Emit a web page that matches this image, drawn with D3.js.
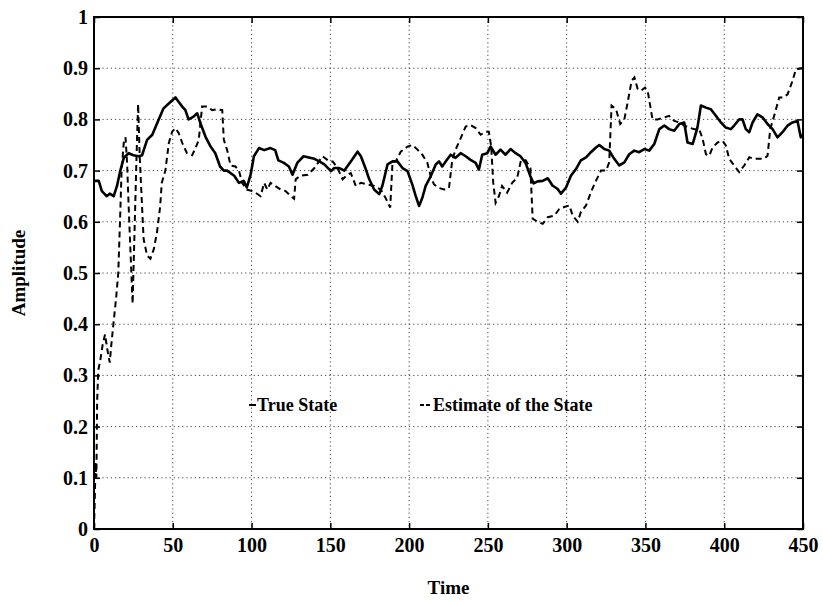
<!DOCTYPE html>
<meta charset="utf-8">
<style>

body {
  margin: 0;
  background: #fff;
}

text {
  font-family: "Liberation Serif", "Times New Roman", serif;
  font-weight: bold;
  fill: #000;
}

.grid line {
  stroke: #444;
  stroke-width: 1;
  stroke-dasharray: 1.2,3;
}

.axis path {
  display: none;
}

.axis line {
  stroke: #000;
  stroke-width: 1.5;
}

</style>
<svg width="823" height="602"></svg>
<script src="https://cdn.jsdelivr.net/npm/d3@7"></script>
<script>

// true state, sampled along time
var trueTime = [0, 3, 5, 8, 10, 12.5, 14.6, 16.7, 18.9, 22, 25, 28.4, 30.5, 33.7, 37, 40, 44, 48.5, 51.7, 53.8,
  56, 58, 60, 63, 65.5, 67.6, 70.8, 74, 77, 80, 82.4, 84.5, 89, 92, 95, 97, 99.4, 101.5, 104.7, 108,
  112, 115, 117, 120.5, 123.7, 126, 129, 133, 135.7, 139.9, 143, 146.2, 150.4, 152.5, 155.7, 158.9, 163, 167.3, 169.4, 172.6,
  174.7, 177.8, 181, 183, 186.3, 189.5, 192.6, 195.8, 199, 202, 204.2, 206.3, 208.4, 210.5, 213.7, 216.9, 219, 221, 224, 226.4,
  229.5, 232.7, 235.9, 239, 242.2, 244.3, 246.4, 249.6, 251.7, 254.9, 258, 261.2, 264.4, 267.6, 270.7, 273.9, 277, 279, 281.6, 284.8,
  288, 291, 294.3, 296.4, 299.6, 302.7, 305.9, 309, 312.3, 315.4, 318.6, 320.7, 323.9, 327, 330.2, 333.4, 336.6, 339.7, 342.9, 346,
  349.3, 352.4, 355.6, 358.8, 362, 365, 368.3, 371.5, 374.6, 376.7, 380, 383, 385.2, 388.4, 391.5, 394.7, 397.9, 401, 404.2, 406.3,
  409.5, 411.6, 413.7, 415.9, 418, 421.1, 424.3, 427.5, 430.7, 433.8, 437, 440.2, 443.3, 446.5, 448.6, 450];
var trueValue = [0.68, 0.68, 0.66, 0.65, 0.655, 0.65, 0.67, 0.70, 0.725, 0.734, 0.73, 0.728, 0.73, 0.76, 0.77, 0.792, 0.821, 0.834, 0.843, 0.834,
  0.825, 0.818, 0.80, 0.805, 0.812, 0.792, 0.766, 0.747, 0.734, 0.708, 0.70, 0.70, 0.69, 0.676, 0.68, 0.667, 0.692, 0.728, 0.744, 0.74,
  0.744, 0.74, 0.72, 0.715, 0.708, 0.692, 0.715, 0.728, 0.726, 0.723, 0.718, 0.712, 0.699, 0.705, 0.705, 0.70, 0.718, 0.737, 0.728, 0.702,
  0.683, 0.663, 0.654, 0.67, 0.712, 0.718, 0.718, 0.705, 0.699, 0.673, 0.65, 0.631, 0.647, 0.67, 0.689, 0.712, 0.718, 0.708, 0.721, 0.731,
  0.725, 0.734, 0.728, 0.721, 0.715, 0.702, 0.731, 0.734, 0.747, 0.731, 0.741, 0.731, 0.742, 0.734, 0.728, 0.715, 0.689, 0.675, 0.679, 0.68,
  0.685, 0.671, 0.664, 0.655, 0.667, 0.69, 0.703, 0.72, 0.726, 0.736, 0.745, 0.75, 0.742, 0.739, 0.723, 0.71, 0.716, 0.732, 0.739, 0.736,
  0.742, 0.739, 0.752, 0.781, 0.788, 0.781, 0.778, 0.791, 0.794, 0.755, 0.752, 0.784, 0.827, 0.823, 0.82, 0.807, 0.794, 0.784, 0.781, 0.788,
  0.80, 0.80, 0.781, 0.775, 0.794, 0.81, 0.804, 0.791, 0.781, 0.765, 0.775, 0.788, 0.794, 0.797, 0.765, 0.77];

// filter estimate of the state
var estTime = [0, 0.5, 1, 1.5, 2, 2.7, 4, 5.5, 7, 8.5, 10, 11, 12.3, 14, 15.4, 16.5, 17.5, 18.9, 20, 21,
  22, 23, 24.5, 25.6, 27, 28, 29, 30.5, 31.5, 33.7, 35.8, 38, 40, 42, 43, 45.3, 47.5, 49.6, 51.7, 53.8,
  56, 59, 62.3, 64.4, 66.5, 68.6, 71.8, 75, 78, 81.4, 82.4, 84.5, 86.7, 89.8, 92, 94, 97, 100.4, 102.5, 105.7,
  108, 110, 112, 115, 118.4, 121.6, 125, 127, 128, 131, 135.7, 139.9, 145, 149.4, 151.5, 154.6, 157.8, 161, 163, 166.2,
  169.4, 173.6, 177.8, 182, 185, 188, 189.5, 191.6, 194.7, 199, 202, 205.3, 208.4, 211.6, 213.7, 215.8, 219, 222.2, 225.3, 227.4,
  229.5, 232.7, 235.9, 239, 242.2, 245.4, 248.5, 250.6, 252.1, 253.4, 254.9, 257, 259, 262.2, 265.4, 268.6, 271, 274, 277, 278.4,
  281.6, 284.8, 288, 292.2, 295.3, 298.5, 301.7, 303.8, 307, 309, 312.3, 315.4, 318.6, 321.8, 325, 327, 328.5, 331.3, 334, 336.6,
  338.7, 341.2, 343, 345, 347.1, 349.7, 351.4, 353, 354.5, 357.7, 362, 365, 368.3, 371.5, 374.6, 377.8, 381, 384.1, 386.3, 388.4,
  390.5, 392.6, 395.8, 399, 401, 403.2, 406.3, 409.5, 412.7, 415.9, 419, 422.2, 425.4, 427.5, 429.2, 431.7, 434.9, 438, 440.2, 443.3,
  445.5, 448.6, 450];
var estValue = [0, 0.06, 0.13, 0.1, 0.25, 0.31, 0.33, 0.36, 0.38, 0.35, 0.325, 0.36, 0.40, 0.45, 0.50, 0.60, 0.70, 0.755, 0.765, 0.715,
  0.63, 0.553, 0.44, 0.566, 0.728, 0.83, 0.728, 0.63, 0.566, 0.534, 0.528, 0.547, 0.58, 0.63, 0.676, 0.70, 0.754, 0.776, 0.783, 0.773,
  0.754, 0.734, 0.73, 0.744, 0.76, 0.825, 0.825, 0.818, 0.82, 0.818, 0.76, 0.74, 0.71, 0.708, 0.70, 0.676, 0.663, 0.66, 0.657, 0.65,
  0.676, 0.663, 0.676, 0.67, 0.663, 0.66, 0.65, 0.645, 0.683, 0.69, 0.692, 0.705, 0.728, 0.718, 0.718, 0.705, 0.683, 0.692, 0.695, 0.67,
  0.676, 0.673, 0.67, 0.663, 0.647, 0.628, 0.718, 0.718, 0.737, 0.747, 0.75, 0.741, 0.731, 0.715, 0.689, 0.673, 0.666, 0.663, 0.666, 0.721,
  0.741, 0.763, 0.786, 0.789, 0.783, 0.77, 0.776, 0.776, 0.747, 0.676, 0.637, 0.65, 0.67, 0.657, 0.676, 0.686, 0.72, 0.72, 0.705, 0.606,
  0.60, 0.596, 0.609, 0.612, 0.625, 0.629, 0.632, 0.612, 0.60, 0.619, 0.632, 0.658, 0.68, 0.70, 0.70, 0.716, 0.827, 0.82, 0.791, 0.80,
  0.833, 0.875, 0.882, 0.86, 0.856, 0.862, 0.856, 0.827, 0.80, 0.80, 0.804, 0.807, 0.797, 0.794, 0.788, 0.784, 0.781, 0.781, 0.762, 0.732,
  0.729, 0.745, 0.755, 0.758, 0.749, 0.723, 0.71, 0.697, 0.71, 0.726, 0.723, 0.723, 0.723, 0.729, 0.781, 0.807, 0.843, 0.843, 0.849, 0.875,
  0.898, 0.90, 0.90];

var xTicks = [0, 50, 100, 150, 200, 250, 300, 350, 400, 450];
var xTickLabels = ["0", "50", "100", "150", "200", "250", "300", "350", "400", "450"];
var yTicks = [0, 0.1, 0.2, 0.3, 0.4, 0.5, 0.6, 0.7, 0.8, 0.9, 1];
var yTickLabels = ["0", "0.1", "0.2", "0.3", "0.4", "0.5", "0.6", "0.7", "0.8", "0.9", "1"];

var seriesNames = ["True State", "Estimate of the State"];

var svg = d3.select("svg"),
    box = {x0: 94, x1: 803, y0: 17, y1: 529};

var x = d3.scaleLinear().domain([0, 450]).range([box.x0, box.x1]);
var y = d3.scaleLinear().domain([0, 1]).range([box.y1, box.y0]);

// dotted grid
var grid = svg.append("g").attr("class", "grid");
grid.selectAll(".gx")
    .data(xTicks.slice(1, -1))
    .enter().append("line")
    .attr("x1", function(d) { return x(d); })
    .attr("x2", function(d) { return x(d); })
    .attr("y1", box.y0)
    .attr("y2", box.y1);
grid.selectAll(".gy")
    .data(yTicks.slice(1, -1))
    .enter().append("line")
    .attr("x1", box.x0)
    .attr("x2", box.x1)
    .attr("y1", function(d) { return y(d); })
    .attr("y2", function(d) { return y(d); });

// axes, ticks pointing inward on all four sides
svg.append("g")
    .attr("class", "axis")
    .attr("transform", "translate(0," + box.y1 + ")")
    .call(d3.axisBottom(x).tickValues(xTicks).tickSize(-6).tickPadding(9)
        .tickFormat(function(d, i) { return xTickLabels[i]; }))
    .selectAll("text").style("font-size", "20px");

svg.append("g")
    .attr("class", "axis")
    .attr("transform", "translate(" + box.x0 + ",0)")
    .call(d3.axisLeft(y).tickValues(yTicks).tickSize(-6).tickPadding(6)
        .tickFormat(function(d, i) { return yTickLabels[i]; }))
    .selectAll("text").style("font-size", "20px");

svg.append("g")
    .attr("class", "axis")
    .attr("transform", "translate(0," + box.y0 + ")")
    .call(d3.axisTop(x).tickValues(xTicks).tickSize(-6).tickFormat(""));

svg.append("g")
    .attr("class", "axis")
    .attr("transform", "translate(" + box.x1 + ",0)")
    .call(d3.axisRight(y).tickValues(yTicks).tickSize(-6).tickFormat(""));

var line = d3.line()
    .x(function(d) { return x(d[0]); })
    .y(function(d) { return y(d[1]); });

var trueData = d3.zip(trueTime, trueValue);
var estData = d3.zip(estTime, estValue);

svg.append("path")
    .datum(estData)
    .attr("fill", "none")
    .attr("stroke", "#000")
    .attr("stroke-width", 2)
    .attr("stroke-dasharray", "6,4")
    .attr("d", line);

svg.append("path")
    .datum(trueData)
    .attr("fill", "none")
    .attr("stroke", "#000")
    .attr("stroke-width", 2.6)
    .attr("stroke-linejoin", "round")
    .attr("d", line);

// frame
svg.append("rect")
    .attr("x", box.x0)
    .attr("y", box.y0)
    .attr("width", box.x1 - box.x0)
    .attr("height", box.y1 - box.y0)
    .attr("fill", "none")
    .attr("stroke", "#000")
    .attr("stroke-width", 2);

// legend
var legend = svg.append("g").style("font-size", "18px");
legend.append("line")
    .attr("x1", 249).attr("x2", 256)
    .attr("y1", 405).attr("y2", 405)
    .attr("stroke", "#000").attr("stroke-width", 2);
legend.append("text")
    .attr("x", 257).attr("y", 411)
    .text(seriesNames[0]);
legend.append("line")
    .attr("x1", 420).attr("x2", 432)
    .attr("y1", 405).attr("y2", 405)
    .attr("stroke", "#000").attr("stroke-width", 2)
    .attr("stroke-dasharray", "4,2");
legend.append("text")
    .attr("x", 433).attr("y", 411)
    .text(seriesNames[1]);

svg.append("text")
    .attr("x", (box.x0 + box.x1) / 2)
    .attr("y", 594)
    .attr("text-anchor", "middle")
    .style("font-size", "19px")
    .text("Time");

svg.append("text")
    .attr("transform", "translate(25," + (box.y0 + box.y1) / 2 + ") rotate(-90)")
    .attr("text-anchor", "middle")
    .style("font-size", "19px")
    .text("Amplitude");

</script>
